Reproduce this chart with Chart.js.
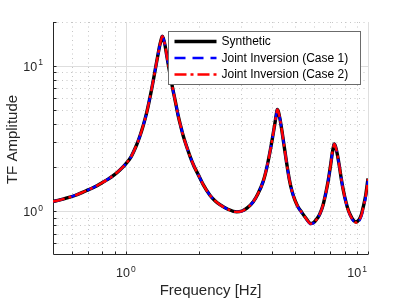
<!DOCTYPE html>
<html>
<head>
<meta charset="utf-8">
<script src="https://cdn.jsdelivr.net/npm/chart.js@4"></script>
<style>
  html, body { margin: 0; padding: 0; background: #fff; }
  #wrap { width: 407px; height: 305px; }
</style>
</head>
<body>
<div id="wrap"><canvas id="tf" width="407" height="305"></canvas></div>
<script>
// values (frequency in Hz, TF amplitude)
const FREQ  = [0.500, 0.534, 0.571, 0.616, 0.658, 0.699, 0.745, 0.788, 0.845, 0.892, 0.945, 0.991, 1.049, 1.107, 1.143, 1.181, 1.218, 1.277, 1.339, 1.382, 1.402, 1.413,
               1.429, 1.450, 1.473, 1.496, 1.520, 1.545, 1.569, 1.602, 1.645, 1.688, 1.726, 1.782, 1.839, 1.910, 1.990, 2.086, 2.224, 2.333, 2.446, 2.639, 2.868,
               3.016, 3.162, 3.358, 3.512, 3.694, 3.808, 3.936, 4.031, 4.128, 4.188, 4.220, 4.269, 4.330, 4.412, 4.498, 4.613, 4.729, 4.853, 4.992, 5.137, 5.321, 5.544, 5.797,
               5.983, 6.215, 6.336, 6.518, 6.707, 6.855, 6.998, 7.120, 7.202, 7.257, 7.341, 7.467, 7.625, 7.772, 7.906, 8.111, 8.268, 8.425, 8.670, 8.921,
               9.179, 9.400, 9.554, 9.784, 10.000];
const SYNTH = [1.166, 1.195, 1.233, 1.283, 1.341, 1.403, 1.473, 1.552, 1.663, 1.771, 1.924, 2.083, 2.357, 2.852, 3.290, 3.918, 4.742, 6.885, 10.57, 13.96, 15.36, 15.98,
               15.36, 13.96, 11.91, 10.24, 8.807, 7.634, 6.672, 5.646, 4.521, 3.796, 3.290, 2.785, 2.395, 2.044, 1.785, 1.523, 1.289, 1.181, 1.109, 1.032, 0.989,
               1.003, 1.049, 1.163, 1.320, 1.610, 1.949, 2.552, 3.187, 4.045, 4.704, 5.012, 4.816, 4.310, 3.562, 2.852, 2.143, 1.663, 1.374, 1.191, 1.074, 0.984, 0.895, 0.823,
               0.840, 0.909, 0.964, 1.100, 1.352, 1.636, 2.044, 2.512, 2.785, 2.898, 2.785, 2.472, 2.012, 1.636, 1.396, 1.154, 1.032, 0.953, 0.874, 0.844,
               0.874, 0.953, 1.066, 1.289, 1.681];
const CASE1 = [1.166, 1.195, 1.233, 1.283, 1.341, 1.403, 1.473, 1.552, 1.663, 1.771, 1.924, 2.083, 2.357, 2.852, 3.290, 3.918, 4.742, 6.885, 10.57, 13.96, 15.36, 15.98,
               15.36, 13.96, 11.91, 10.24, 8.807, 7.634, 6.672, 5.646, 4.521, 3.796, 3.290, 2.785, 2.395, 2.044, 1.785, 1.523, 1.289, 1.181, 1.109, 1.032, 0.989,
               1.003, 1.049, 1.163, 1.320, 1.610, 1.949, 2.552, 3.187, 4.045, 4.704, 5.012, 4.816, 4.310, 3.562, 2.852, 2.143, 1.663, 1.374, 1.191, 1.070, 0.978, 0.888, 0.815,
               0.833, 0.905, 0.962, 1.100, 1.352, 1.636, 2.044, 2.512, 2.785, 2.898, 2.785, 2.472, 2.012, 1.636, 1.390, 1.145, 1.020, 0.940, 0.862, 0.828,
               0.856, 0.930, 1.040, 1.250, 1.640];
const CASE2 = [1.166, 1.195, 1.233, 1.283, 1.341, 1.403, 1.473, 1.552, 1.663, 1.771, 1.924, 2.083, 2.357, 2.852, 3.290, 3.918, 4.742, 6.885, 10.57, 13.96, 15.36, 15.98,
               15.36, 13.96, 11.91, 10.24, 8.807, 7.634, 6.672, 5.646, 4.521, 3.796, 3.290, 2.785, 2.395, 2.044, 1.785, 1.523, 1.289, 1.181, 1.109, 1.032, 0.989,
               1.003, 1.049, 1.163, 1.320, 1.610, 1.949, 2.552, 3.187, 4.045, 4.704, 5.012, 4.816, 4.310, 3.562, 2.852, 2.143, 1.663, 1.374, 1.191, 1.072, 0.981, 0.892, 0.820,
               0.837, 0.907, 0.963, 1.100, 1.352, 1.636, 2.044, 2.512, 2.785, 2.898, 2.785, 2.472, 2.012, 1.636, 1.393, 1.150, 1.026, 0.946, 0.868, 0.836,
               0.865, 0.942, 1.053, 1.270, 1.665];
const LABELS = ['Synthetic', 'Joint Inversion (Case 1)', 'Joint Inversion (Case 2)'];

const X_MAJOR = [1, 10], X_MINOR = [0.6, 0.7, 0.8, 0.9, 2, 3, 4, 5, 6, 7, 8, 9];
const Y_MAJOR = [1, 10], Y_MINOR = [0.6, 0.7, 0.8, 0.9, 2, 3, 4, 5, 6, 7, 8, 9, 20];
const X_TITLE = 'Frequency [Hz]', Y_TITLE = 'TF Amplitude';

const FONT = '"Liberation Sans", Arial, Helvetica, sans-serif';
const INK = '#262626';
const pts = ys => FREQ.map((f, i) => ({ x: f, y: ys[i] }));

// grid, axes, tick marks and labels (MATLAB style: ticks inside, 10^n labels)
const axesPlugin = {
  id: 'matlabAxes',
  beforeDatasetsDraw(chart) {
    const { ctx, chartArea: a, scales: { x, y } } = chart;
    const vx = v => Math.round(x.getPixelForValue(v)) + 0.5;
    const vy = v => Math.round(y.getPixelForValue(v)) + 0.5;
    ctx.save();
    ctx.lineWidth = 1;
    // minor dotted grid
    ctx.strokeStyle = '#c6c6c6'; ctx.setLineDash([1, 3.5]);
    X_MINOR.forEach(v => { ctx.beginPath(); ctx.moveTo(vx(v), a.top); ctx.lineTo(vx(v), a.bottom); ctx.stroke(); });
    Y_MINOR.forEach(v => { ctx.beginPath(); ctx.moveTo(a.left, vy(v)); ctx.lineTo(a.right, vy(v)); ctx.stroke(); });
    // major solid grid
    ctx.setLineDash([]); ctx.strokeStyle = '#dedede';
    X_MAJOR.forEach(v => { ctx.beginPath(); ctx.moveTo(vx(v), a.top); ctx.lineTo(vx(v), a.bottom); ctx.stroke(); });
    Y_MAJOR.forEach(v => { ctx.beginPath(); ctx.moveTo(a.left, vy(v)); ctx.lineTo(a.right, vy(v)); ctx.stroke(); });
    // axis lines
    ctx.strokeStyle = INK;
    const L = Math.round(a.left) + 0.5, B = Math.round(a.bottom) - 0.5;
    ctx.beginPath(); ctx.moveTo(L, a.top); ctx.lineTo(L, B); ctx.lineTo(a.right, B); ctx.stroke();
    // inward ticks
    X_MAJOR.concat(X_MINOR).forEach(v => { ctx.beginPath(); ctx.moveTo(vx(v), B); ctx.lineTo(vx(v), B - 3); ctx.stroke(); });
    Y_MAJOR.concat(Y_MINOR).forEach(v => { ctx.beginPath(); ctx.moveTo(L, vy(v)); ctx.lineTo(L + 3, vy(v)); ctx.stroke(); });
    // tick labels
    ctx.fillStyle = INK; ctx.textBaseline = 'alphabetic'; ctx.textAlign = 'left';
    const big = '12.5px ' + FONT, small = '8.5px ' + FONT;
    const label = (v, bx, by, mode) => {
      const e = String(Math.round(Math.log10(v)));
      ctx.font = big; const w1 = ctx.measureText('10').width;
      ctx.font = small; const w2 = ctx.measureText(e).width;
      const tot = w1 + 1 + w2;
      const sx = mode === 'center' ? bx - tot / 2 : bx - tot;
      ctx.font = big; ctx.fillText('10', sx, by);
      ctx.font = small; ctx.fillText(e, sx + w1 + 1, by - 5.5);
    };
    X_MAJOR.forEach(v => {
      const p = x.getPixelForValue(v);
      if (p > a.right - 12) label(v, a.right - 1, 277, 'right');
      else label(v, p, 277, 'center');
    });
    Y_MAJOR.forEach(v => label(v, a.left - 10, y.getPixelForValue(v) + 5, 'right'));
    // axis titles
    ctx.font = '15px ' + FONT; ctx.textAlign = 'center';
    ctx.fillText(X_TITLE, (a.left + a.right) / 2, 295);
    ctx.translate(17, (a.top + a.bottom) / 2 + 1); ctx.rotate(-Math.PI / 2);
    ctx.fillText(Y_TITLE, 0, 0);
    ctx.restore();
  }
};

// boxed legend inside the axes, top right
const legendPlugin = {
  id: 'boxLegend',
  afterDraw(chart) {
    const { ctx } = chart;
    const bx = 168.5, by = 31.5, bw = 192, bh = 53;
    ctx.save();
    ctx.fillStyle = '#fff'; ctx.fillRect(bx, by, bw, bh);
    ctx.strokeStyle = '#6b6b6b'; ctx.lineWidth = 1; ctx.strokeRect(bx, by, bw, bh);
    ctx.font = '12px ' + FONT; ctx.fillStyle = '#000'; ctx.textBaseline = 'middle';
    [0, 1, 2].forEach(k => {
      const ds = chart.data.datasets[k];
      const yy = by + 10 + k * 16.5;
      ctx.strokeStyle = ds.borderColor; ctx.lineWidth = ds.borderWidth;
      ctx.setLineDash(ds.borderDash || []);
      ctx.beginPath(); ctx.moveTo(bx + 6, yy); ctx.lineTo(bx + 48, yy); ctx.stroke();
      ctx.setLineDash([]);
      ctx.fillText(ds.label, bx + 53, yy + 0.5);
    });
    ctx.restore();
  }
};

const line = (label, ys, color, width, dash, order) => ({
  label, data: pts(ys), borderColor: color, borderWidth: width, borderDash: dash,
  pointRadius: 0, fill: false, cubicInterpolationMode: 'monotone', order
});

new Chart(document.getElementById('tf'), {
  type: 'line',
  data: {
    datasets: [
      line(LABELS[0], SYNTH, '#000000', 3.4, [], 3),
      line(LABELS[1], CASE1, '#0000ff', 2.4, [11, 7], 2),
      line(LABELS[2], CASE2, '#ff0000', 2.4, [12, 4, 3, 4], 1)
    ]
  },
  options: {
    responsive: false, animation: false, devicePixelRatio: 1,
    layout: { padding: { left: 53, right: 39, top: 22, bottom: 50 } },
    plugins: { legend: { display: false }, tooltip: { enabled: false } },
    scales: {
      x: { type: 'logarithmic', min: 0.5, max: 10, display: false },
      y: { type: 'logarithmic', min: 0.5, max: 20, display: false }
    }
  },
  plugins: [axesPlugin, legendPlugin]
});
</script>
</body>
</html>
